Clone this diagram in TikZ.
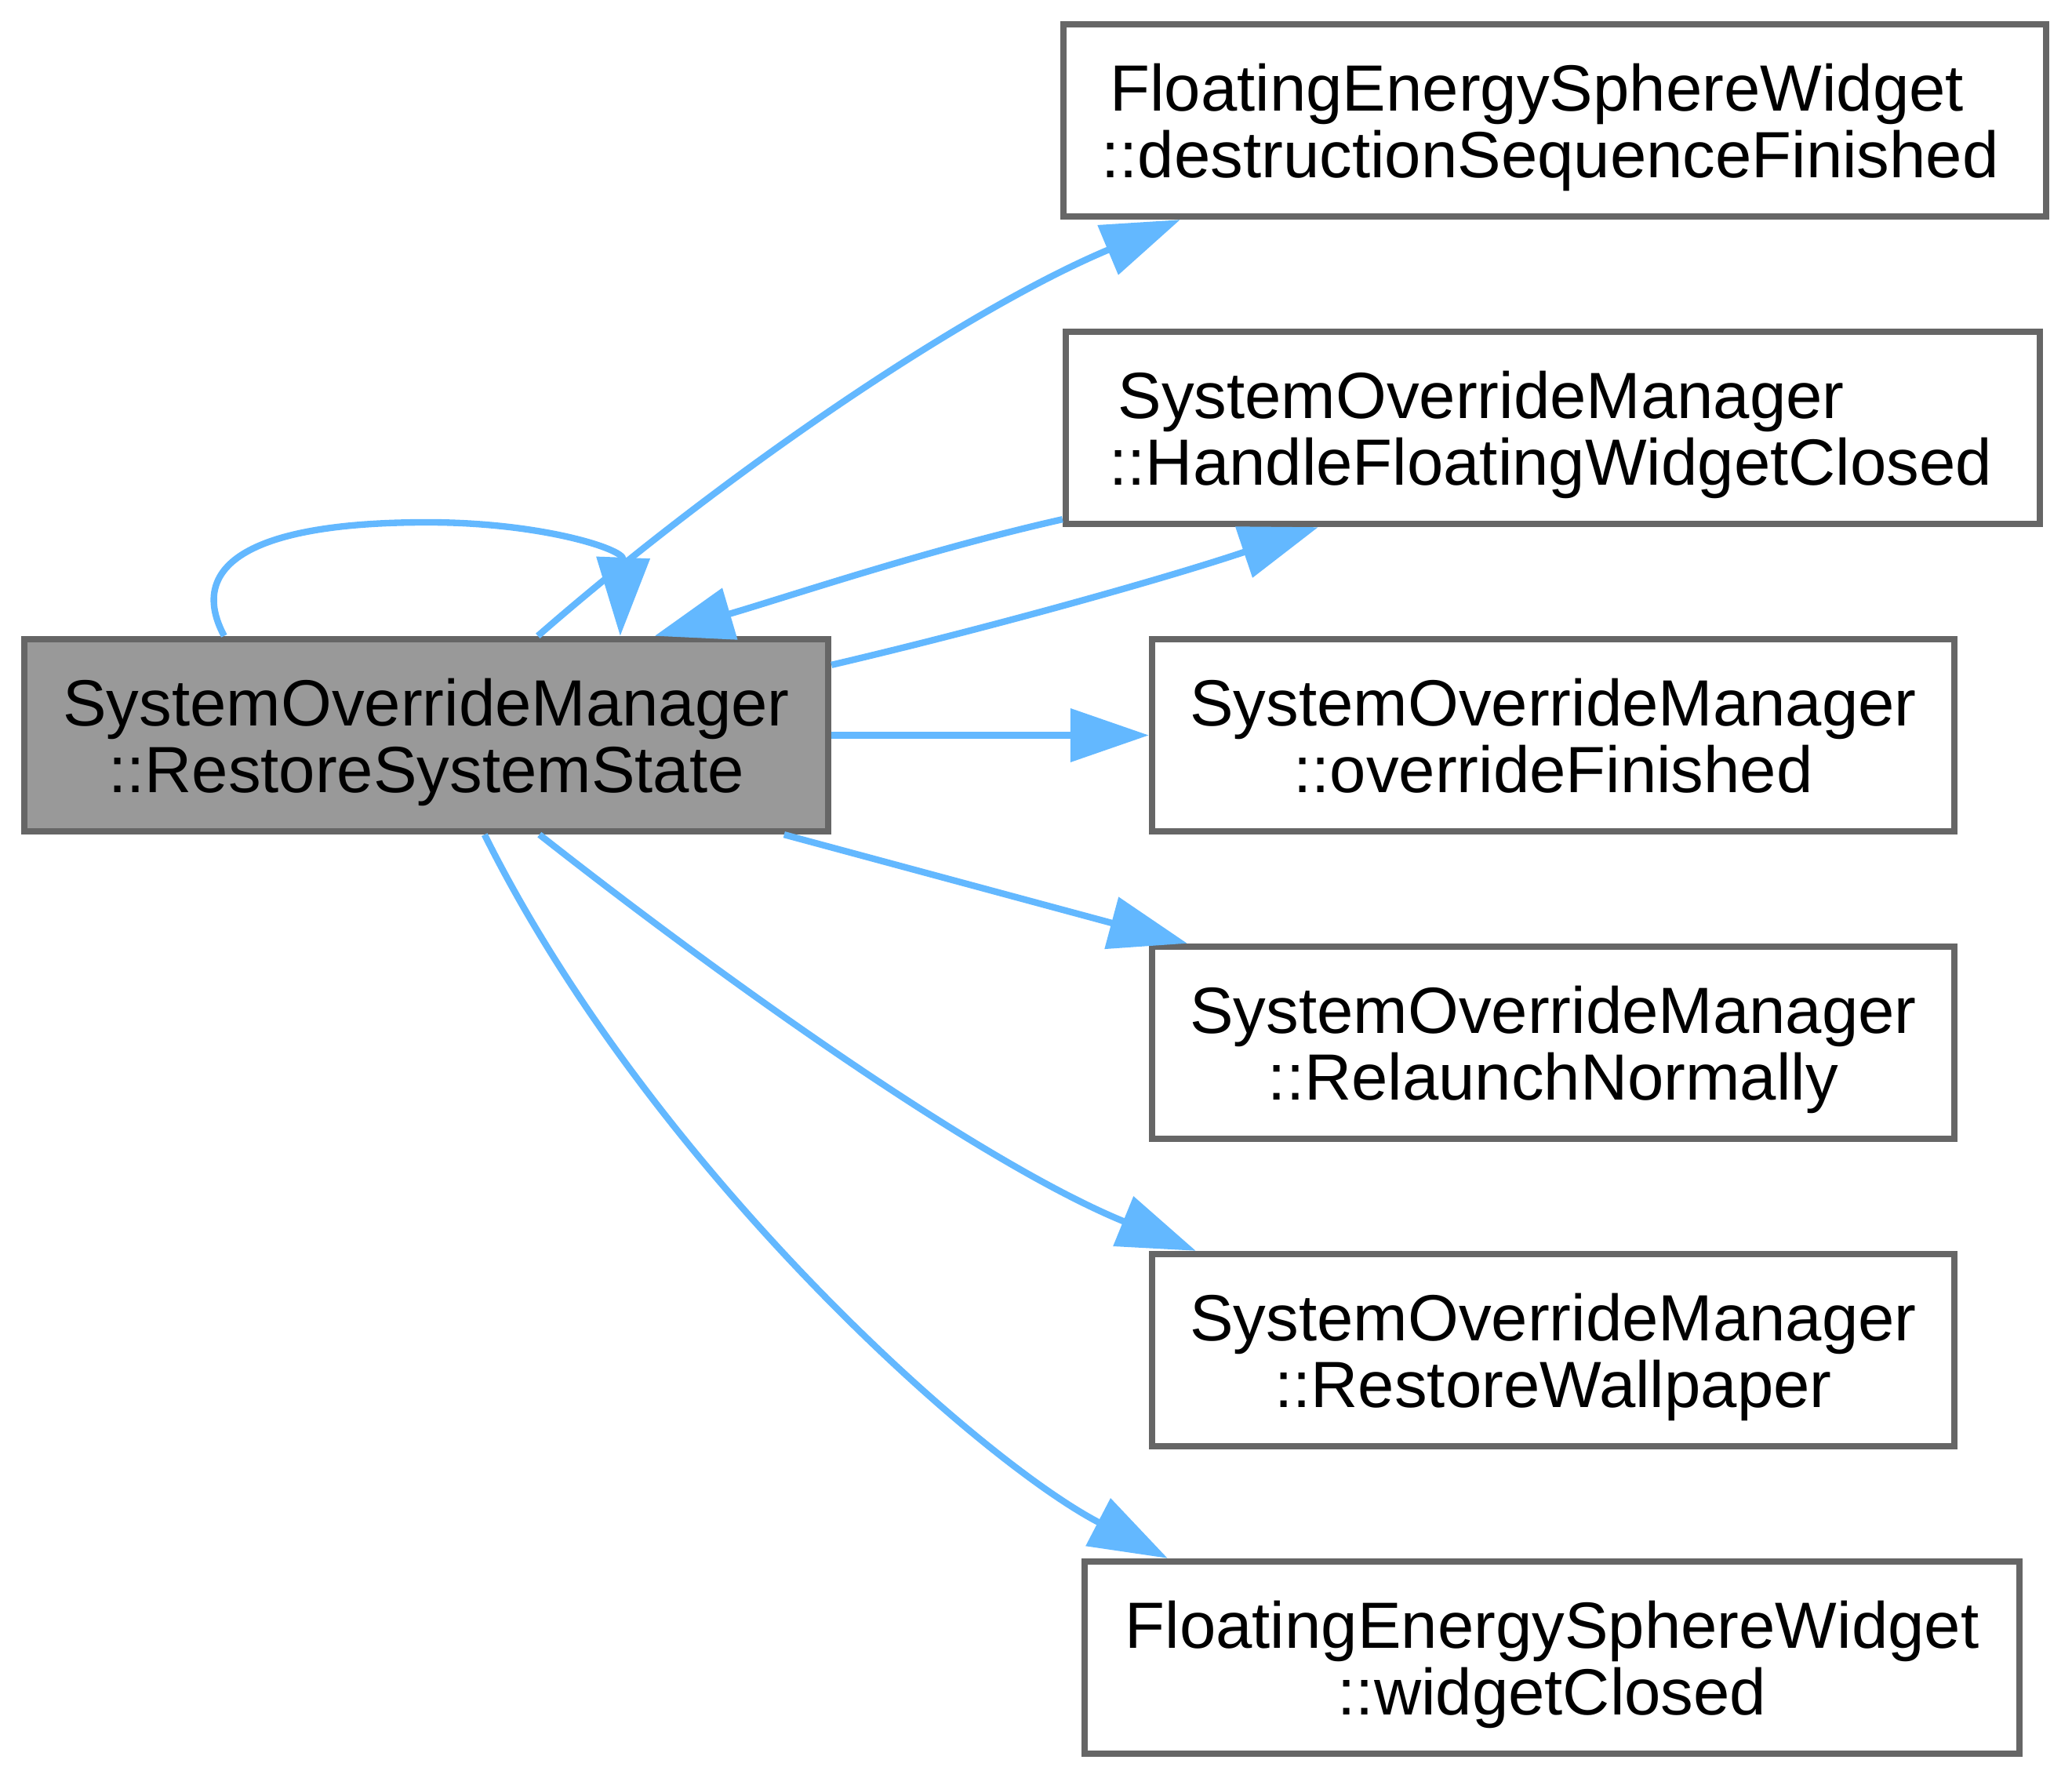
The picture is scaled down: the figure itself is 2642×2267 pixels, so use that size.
\documentclass[tikz,border=0pt]{standalone}
\usepackage{fontspec}
\setmainfont{Liberation Sans}
\usetikzlibrary{arrows.meta,calc}
\definecolor{edgeblue}{HTML}{63B8FF}
\definecolor{boxborder}{HTML}{666666}
\definecolor{mainfill}{HTML}{999999}
\begin{document}
\begin{tikzpicture}[x=0.12pt,y=-0.12pt,
  box/.style={draw=boxborder, line width=1pt, fill=white, rectangle, inner sep=0pt, minimum height=29.4pt},
  mainbox/.style={box, fill=mainfill},
  lbl/.style={inner sep=0pt, font=\fontsize{10}{12}\selectfont, text=black},
  calledge/.style={draw=edgeblue, line width=1pt, -{Triangle[length=12pt,width=8pt]}}]
\useasboundingbox (0,0) rectangle (2642,2267);

% boxes
\node[mainbox, minimum width=123pt]    (main) at (543.5,937.5) {};
\node[box, minimum width=150.36pt]     (n1) at (1982.5,153.5) {};
\node[box, minimum width=149.04pt]     (n2) at (1980,545.5) {};
\node[box, minimum width=122.76pt]     (n3) at (1980.5,937.5) {};
\node[box, minimum width=122.76pt]     (n4) at (1980.5,1329.5) {};
\node[box, minimum width=122.76pt]     (n5) at (1980.5,1721.5) {};
\node[box, minimum width=143.04pt]     (n6) at (1979,2113.5) {};

% labels
\node[lbl, anchor=base] (maina) at ($(main.north)+(0,115)$) {SystemOverrideManager};
\node[lbl, anchor=base] (mainb) at ($(main.north)+(0,200)$) {::RestoreSystemState};
\node[lbl, anchor=base west] (n1a) at ($(n1.north west)+(62,115)$) {FloatingEnergySphereWidget};
\node[lbl, anchor=base west] (n1b) at ($(n1.north west)+(51,200)$) {::destructionSequenceFinished};
\node[lbl, anchor=base west] (n2a) at ($(n2.north west)+(69,115)$) {SystemOverrideManager};
\node[lbl, anchor=base west] (n2b) at ($(n2.north west)+(58,200)$) {::HandleFloatingWidgetClosed};
\node[lbl, anchor=base] (n3a) at ($(n3.north)+(0,115)$) {SystemOverrideManager};
\node[lbl, anchor=base] (n3b) at ($(n3.north)+(0,200)$) {::overrideFinished};
\node[lbl, anchor=base] (n4a) at ($(n4.north)+(0,115)$) {SystemOverrideManager};
\node[lbl, anchor=base] (n4b) at ($(n4.north)+(0,200)$) {::RelaunchNormally};
\node[lbl, anchor=base] (n5a) at ($(n5.north)+(0,115)$) {SystemOverrideManager};
\node[lbl, anchor=base] (n5b) at ($(n5.north)+(0,200)$) {::RestoreWallpaper};
\node[lbl, anchor=base] (n6a) at ($(n6.north)+(0,115)$) {FloatingEnergySphereWidget};
\node[lbl, anchor=base] (n6b) at ($(n6.north)+(0,200)$) {::widgetClosed};

% self loop
\draw[calledge] ($(main.north west)+(259,0)$) .. controls (240,725) and (310,666) .. (545,666)
  .. controls (690,666) and (795,700) .. ($(main.north west)+(764,0)$);

% to destructionSequenceFinished
\draw[calledge] ($(main.north west)+(659,0)$) .. controls (926.8,600.6) and (1233,394) .. ($(n1.south west)+(153,0)$);

% to HandleFloatingWidgetClosed
\draw[calledge] ($(main.north east)+(0,37)$) .. controls (1256,802) and (1485,738) .. ($(n2.south west)+(326,0)$);

% HandleFloatingWidgetClosed back to main
\draw[calledge] ($(n2.south west)+(0,-10)$) .. controls (1184.4,700.5) and (1010.2,759.2) .. ($(main.north west)+(808,0)$);

% to overrideFinished
\draw[calledge] (main.east) -- (n3.west);

% to RelaunchNormally
\draw[calledge] ($(main.south west)+(973,0)$) -- ($(n4.north west)+(49,0)$);

% to RestoreWallpaper
\draw[calledge] ($(main.south west)+(661,0)$) .. controls (924,1250) and (1252,1483.5) .. ($(n5.north west)+(60,0)$);

% to widgetClosed
\draw[calledge] ($(main.south west)+(591,0)$) .. controls (828.1,1486.7) and (1245.5,1860.2) .. ($(n6.north west)+(110,0)$);
\end{tikzpicture}
\end{document}
